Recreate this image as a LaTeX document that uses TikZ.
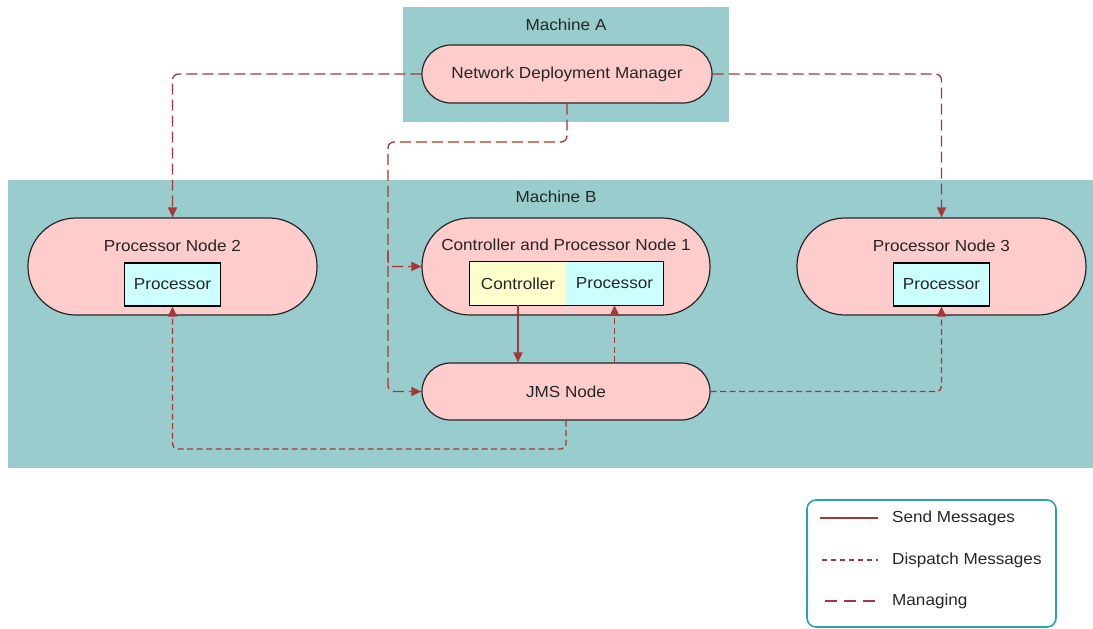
\documentclass[tikz,border=0pt]{standalone}
\usepackage{fontspec}
\setmainfont{Liberation Sans}[FakeStretch=1.07]
\usetikzlibrary{arrows.meta,calc}
\definecolor{teal1}{HTML}{99CCCC}
\definecolor{pink1}{HTML}{FFCCCC}
\definecolor{cyan1}{HTML}{CCFFFF}
\definecolor{yel1}{HTML}{FFFFCC}
\definecolor{arr}{HTML}{A33838}
\definecolor{legb}{HTML}{2AA5A5}
\definecolor{txt}{HTML}{262626}
\tikzset{
  every node/.style={font=\fontsize{16}{19}\selectfont, text=txt, inner sep=0pt},
  machine/.style={fill=teal1, draw=none},
  pill/.style={draw=black!85, fill=pink1, line width=1.2pt, minimum width=#1},
  inbox/.style={draw=black, line width=1.1pt, minimum width=96pt, minimum height=43pt},
  lbl/.style={anchor=center},
  conn/.style={draw=arr, line width=1.3pt},
  tip/.style={-{Triangle[length=10pt,width=9pt]}},
  sendmsg/.style={conn},
  dispatch/.style={conn, dash pattern=on 6pt off 3.5pt, rounded corners=5pt},
  managing/.style={conn, dash pattern=on 11pt off 5pt, rounded corners=6pt},
}
\begin{document}
\begin{tikzpicture}[x=1pt,y=-1pt]
\useasboundingbox (0,0) rectangle (1093,629);
% machines
\node[machine, minimum width=326pt, minimum height=115pt] (machA) at (566,64.5) {};
\node[lbl] (machAlbl) at (566,25) {Machine A};
\node[machine, minimum width=1085pt, minimum height=288pt] (machB) at (550.5,324) {};
\node[lbl] (machBlbl) at (556,197) {Machine B};
% NDM
\node[pill=290pt, minimum height=58pt, rounded corners=29pt] (ndm) at (567,74) {Network Deployment Manager};
% Processor node 2
\node[pill=289pt, minimum height=97pt, rounded corners=48pt] (pn2) at (172.5,266.5) {};
\node[lbl] (pn2lbl) at (172.5,246) {Processor Node 2};
\node[inbox, fill=cyan1] (proc2) at (172.5,284.5) {Processor};
% Controller and processor node 1
\node[pill=288pt, minimum height=97pt, rounded corners=48pt] (cpn1) at (566,266.5) {};
\node[lbl] (cpn1lbl) at (566,245) {Controller and Processor Node 1};
\node[fill=yel1, minimum width=96pt, minimum height=43pt] (ctrl) at (518,283.5) {Controller};
\node[fill=cyan1, minimum width=97pt, minimum height=43pt] (proc1) at (614.5,283.5) {Processor};
\draw[line width=1.1pt] (ctrl.north west) rectangle (proc1.south east);
% JMS
\node[pill=288pt, minimum height=57pt, rounded corners=28.5pt] (jms) at (566,391.5) {JMS Node};
% Processor node 3
\node[pill=289pt, minimum height=97pt, rounded corners=48pt] (pn3) at (941.5,266.5) {};
\node[lbl] (pn3lbl) at (941.5,246) {Processor Node 3};
\node[inbox, fill=cyan1] (proc3) at (941.5,284.5) {Processor};
% coordinates
\coordinate (m1) at (388,142);
\coordinate (m2) at (388,252);
\coordinate (d1) at (172.5,449);
% managing
\draw[managing, tip] (ndm.west) -| (pn2.north);
\draw[managing, tip] (ndm.east) -| (pn3.north);
\draw[managing, tip] (ndm.south) |- (m1) |- (jms.west);
\draw[managing, tip] (m2) |- (cpn1.west);
% send
\draw[sendmsg, tip] (ctrl.south) -- (jms.north -| ctrl.south);
% dispatch
\draw[dispatch, tip] (jms.north -| proc1.south) -- (proc1.south);
\draw[dispatch, tip] (jms.south) |- (d1) -- (proc2.south);
\draw[dispatch, tip] (jms.east) -| (proc3.south);
% legend
\node[draw=legb, line width=1.6pt, rounded corners=9pt, minimum width=249pt, minimum height=127pt] (legend) at (931.5,563.5) {};
\coordinate (l1a) at (820,518); \coordinate (l1b) at (878,518);
\coordinate (l2a) at (822,560); \coordinate (l2b) at (878,560);
\coordinate (l3a) at (825,601); \coordinate (l3b) at (878,601);
\draw[sendmsg] (l1a) -- (l1b);
\draw[conn, line width=1.1pt, dash pattern=on 5pt off 4pt] (l2a) -- (l2b);
\draw[conn, dash pattern=on 12pt off 7pt] (l3a) -- (l3b);
\node[anchor=west] (t1) at (892,518) {Send Messages};
\node[anchor=west] (t2) at (892,560) {Dispatch Messages};
\node[anchor=west] (t3) at (892,601) {Managing};
\end{tikzpicture}
\end{document}
